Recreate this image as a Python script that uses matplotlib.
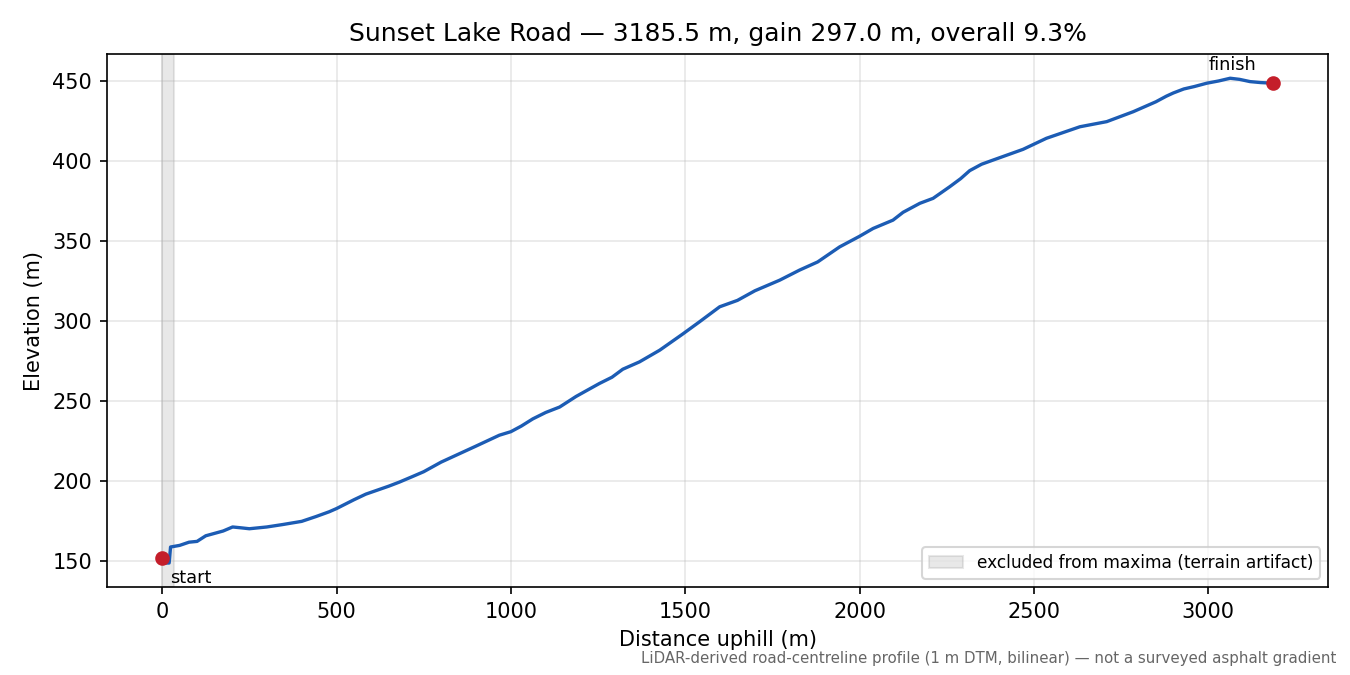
import matplotlib
matplotlib.use('Agg')
import matplotlib.pyplot as plt

# road profile (distance uphill in m, elevation in m)
dist = [0, 20, 24, 50, 77, 100, 125, 150, 175, 202, 225, 250, 300, 345, 400,
        441, 479, 500, 550, 584, 650, 680, 718, 750, 800, 850, 900, 967, 1000,
        1030, 1063, 1100, 1140, 1187, 1220, 1254, 1290, 1321, 1369, 1427, 1493,
        1541, 1599, 1650, 1700, 1771, 1828, 1880, 1943, 2000, 2039, 2096, 2125,
        2173, 2211, 2259, 2290, 2316, 2350, 2383, 2469, 2536, 2632, 2709, 2785,
        2850, 2880, 2900, 2930, 2960, 2996, 3030, 3063, 3090, 3120, 3150, 3185.5]
elev = [149, 149, 159, 160, 162, 162.5, 166, 167.5, 169, 171.5, 171, 170.4,
        171.5, 173, 175, 178, 181, 183, 188.5, 192, 197, 199.5, 203, 206, 212,
        217, 222, 228.8, 231, 234.5, 239, 243, 246.4, 253, 257, 261.1, 265,
        270, 274.6, 281.9, 292, 299.6, 309, 313, 319, 325.6, 331.9, 337, 346.4,
        353, 357.9, 363.1, 368, 373.6, 376.7, 384, 389, 394, 398, 400.6, 407.3,
        414.2, 421.4, 424.6, 430.8, 437, 440.5, 442.5, 445, 446.5, 448.6, 450,
        451.7, 451, 449.6, 449, 448.6]

start_pt = (0.0, 152.0)
finish_pt = (3185.5, 449.0)
excluded = (0, 35)

fig, ax = plt.subplots(figsize=(9, 4.5), dpi=150)
fig.subplots_adjust(left=0.079, right=0.984, top=0.92, bottom=0.13)

ax.axvspan(excluded[0], excluded[1], color='0.55', alpha=0.2,
           label='excluded from maxima (terrain artifact)')
ax.plot(dist, elev, color='#1c5cb4', lw=1.6, zorder=2)
ax.plot([start_pt[0], finish_pt[0]], [start_pt[1], finish_pt[1]], 'o',
        color='#c41e2a', ms=6, zorder=3)

ax.annotate('start', start_pt, xytext=(4, -5), textcoords='offset points',
            ha='left', va='top', fontsize=8.5)
ax.annotate('finish', finish_pt, xytext=(-8, 4), textcoords='offset points',
            ha='right', va='bottom', fontsize=8.5)

ax.grid(True, alpha=0.3)
ax.set_xlabel('Distance uphill (m)')
ax.set_ylabel('Elevation (m)')
ax.set_title('Sunset Lake Road \u2014 3185.5 m, gain 297.0 m, overall 9.3%')
ax.legend(loc='lower right', fontsize=8.15)

fig.text(0.99, 0.013, 'LiDAR-derived road-centreline profile (1 m DTM, bilinear) \u2014 not a surveyed asphalt gradient',
         ha='right', va='bottom', fontsize=7.2, color='0.4')

fig.savefig('out.png')
